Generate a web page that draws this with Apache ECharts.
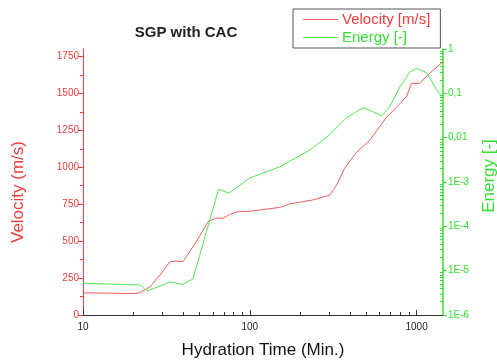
<!DOCTYPE html>
<html>
<head>
<meta charset="utf-8">
<script src="https://cdn.jsdelivr.net/npm/echarts@6/dist/echarts.min.js"></script>
<style>html,body{margin:0;padding:0;background:#fff;}#c{width:497px;height:360px;}</style>
</head>
<body>
<div id="c"></div>
<script>
// ---- data ----
const timeV = [10,14.5,19.9,21.9,25.2,28.9,33.2,36,39.7,46.8,56.1,61.6,68.8,75.8,83.6,100,151,174,238,300,332,370,414,436,523,661,795,871,934,1042,1197,1432];
const velocity = [150,148,145,150,190,270,360,365,360,480,630,655,655,680,698,702,728,752,778,810,880,993,1068,1100,1182,1338,1430,1480,1568,1568,1635,1712];
const timeE = [10,19.9,21.9,24.2,29,33.2,39.7,45.6,65,75,100,151,228,300,380,474,523,616,688,795,910,1000,1150,1320,1432];
const energy = [5.2e-6,4.8e-6,4.8e-6,3.5e-6,4.5e-6,5.6e-6,4.9e-6,6.5e-6,6.9e-4,5.6e-4,1.23e-3,2.2e-3,5.2e-3,1.15e-2,2.8e-2,4.7e-2,4.2e-2,3.1e-2,4.9e-2,0.14,0.30,0.37,0.29,0.12,0.08];
const xMajor = [10,100,1000];
const xMinor = [20,30,40,50,60,70,80,90,200,300,400,500,600,700,800,900];
const vMajor = [0,250,500,750,1000,1250,1500,1750];
const vMinor = [125,375,625,875,1125,1375,1625];
const eMajor = [1e-6,1e-5,1e-4,1e-3,1e-2,1e-1,1];
const eLabels = ['1E-6','1E-5','1E-4','1E-3','0,01','0,1','1'];
const eMinor = [];
[1e-6,1e-5,1e-4,1e-3,1e-2,1e-1].forEach(d => { for (let k = 2; k <= 9; k++) eMinor.push(+(d*k).toPrecision(3)); });

const RED = '#f03c3c', REDLINE = '#f05a5a', GREEN = '#33e033', GREENLINE = '#4fe84f';
const FONT = 'Liberation Sans, Arial, sans-serif';

const chart = echarts.init(document.getElementById('c'), null, {renderer: 'canvas'});
const hid = {show: false};
chart.setOption({
  animation: false,
  backgroundColor: '#fff',
  title: {
    text: 'SGP with CAC', left: 181, top: 20, textAlign: 'center',
    textStyle: {fontSize: 15, fontWeight: 'bold', color: '#222', fontFamily: FONT}
  },
  legend: {
    orient: 'vertical', left: 293, top: 9,
    padding: [3, 10, 3, 10], itemGap: 3,
    borderColor: '#555', borderWidth: 1,
    icon: 'rect', itemWidth: 35, itemHeight: 1.2,
    textStyle: {fontSize: 15, fontFamily: FONT, padding: [0, 0, 0, -1]},
    data: [
      {name: 'Velocity [m/s]', textStyle: {color: RED}},
      {name: 'Energy [-]', textStyle: {color: GREEN}}
    ]
  },
  grid: {left: 83, right: 54, top: 49, bottom: 45, outerBoundsMode: 'none', containLabel: false},
  xAxis: [
    {
      type: 'log', logBase: 10, min: 10, max: 1440,
      name: 'Hydration Time (Min.)', nameLocation: 'middle', nameGap: 27,
      nameTextStyle: {fontSize: 17, color: '#111', fontFamily: FONT},
      axisLine: {lineStyle: {color: '#333', width: 1}},
      axisTick: {inside: true, length: 5, customValues: xMajor, lineStyle: {color: '#333'}},
      axisLabel: {customValues: xMajor, fontSize: 10, color: '#222', margin: 7, fontFamily: FONT, formatter: v => String(Math.round(v))},
      splitLine: hid, minorTick: hid, minorSplitLine: hid
    },
    {
      type: 'log', logBase: 10, min: 10, max: 1440, position: 'bottom',
      axisLine: hid, axisLabel: hid, splitLine: hid,
      axisTick: {inside: true, length: 3, customValues: xMinor, lineStyle: {color: '#333'}}
    }
  ],
  yAxis: [
    {
      type: 'value', min: 0, max: 1800, position: 'left',
      axisLine: {show: true, lineStyle: {color: RED, width: 1}},
      axisTick: {show: true, inside: false, length: 5, customValues: vMajor, lineStyle: {color: RED}},
      axisLabel: {customValues: vMajor, fontSize: 10, color: RED, margin: 4, fontFamily: FONT, formatter: v => String(v)},
      splitLine: hid
    },
    {
      type: 'log', logBase: 10, min: 1e-6, max: 1, position: 'right',
      axisLine: {show: true, lineStyle: {color: GREEN, width: 1.5}},
      axisTick: {show: true, inside: false, length: 4, customValues: eMajor, lineStyle: {color: GREEN}},
      axisLabel: {
        customValues: eMajor, fontSize: 10, color: GREEN, margin: 5, fontFamily: FONT,
        formatter: v => { const i = eMajor.findIndex(m => Math.abs(Math.log10(m) - Math.log10(v)) < 1e-6); return i >= 0 ? eLabels[i] : ''; }
      },
      splitLine: hid
    },
    {
      type: 'value', min: 0, max: 1800, position: 'left',
      axisLine: hid, axisLabel: hid, splitLine: hid,
      axisTick: {show: true, inside: false, length: 3, customValues: vMinor, lineStyle: {color: RED}}
    },
    {
      type: 'log', logBase: 10, min: 1e-6, max: 1, position: 'right',
      axisLine: hid, axisLabel: hid, splitLine: hid,
      axisTick: {show: true, inside: true, length: 3, customValues: eMinor, lineStyle: {color: GREEN}}
    }
  ],
  graphic: [
    {type: 'text', x: 18, y: 192, rotation: Math.PI / 2,
     style: {text: 'Velocity (m/s)', fill: RED, font: '17px ' + FONT, align: 'center', verticalAlign: 'middle'}},
    {type: 'text', x: 489, y: 176, rotation: Math.PI / 2,
     style: {text: 'Energy [-]', fill: GREEN, font: '17px ' + FONT, align: 'center', verticalAlign: 'middle'}}
  ],
  series: [
    {
      name: 'Velocity [m/s]', type: 'line', xAxisIndex: 0, yAxisIndex: 0,
      data: timeV.map((t, i) => [t, velocity[i]]),
      symbol: 'none', lineStyle: {color: REDLINE, width: 1}, itemStyle: {color: REDLINE}
    },
    {
      name: 'Energy [-]', type: 'line', xAxisIndex: 0, yAxisIndex: 1,
      data: timeE.map((t, i) => [t, energy[i]]),
      symbol: 'none', lineStyle: {color: GREENLINE, width: 1}, itemStyle: {color: GREENLINE}
    }
  ]
});
</script>
</body>
</html>
